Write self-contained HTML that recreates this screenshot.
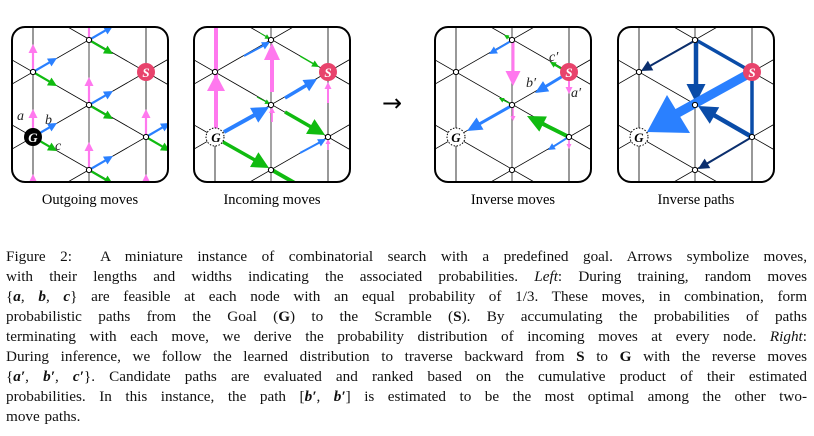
<!DOCTYPE html>
<html><head><meta charset="utf-8"><style>
html,body{margin:0;padding:0;background:#fff;width:814px;height:436px;overflow:hidden}
#fig{position:absolute;left:0;top:0}
.lab{font-family:"Liberation Serif",serif;font-size:14.5px}
#cap{position:absolute;left:6px;top:247px;width:801px;font-family:"Liberation Serif",serif;font-size:15.2px;line-height:20px;color:#111;word-spacing:1px}
#cap .l{display:block;text-align:justify;text-align-last:justify;white-space:nowrap}
#cap .last{text-align-last:left}
</style></head><body>
<svg id="fig" width="814" height="240" xmlns="http://www.w3.org/2000/svg">
<defs>
<clipPath id="c0"><rect x="12" y="27" width="156" height="155" rx="13"/></clipPath>
<clipPath id="c1"><rect x="194" y="27" width="156" height="155" rx="13"/></clipPath>
<clipPath id="c2"><rect x="435" y="27" width="156" height="155" rx="13"/></clipPath>
<clipPath id="c3"><rect x="618" y="27" width="156" height="155" rx="13"/></clipPath>
</defs>
<g id="g0" clip-path="url(#c0)"></g>
<g id="g1" clip-path="url(#c1)"></g>
<g id="g2" clip-path="url(#c2)"></g>
<g id="g3" clip-path="url(#c3)"></g>
<g id="topg"></g>
<text class="lab" x="90" y="204" text-anchor="middle">Outgoing moves</text>
<text class="lab" x="272" y="204" text-anchor="middle">Incoming moves</text>
<text class="lab" x="513" y="204" text-anchor="middle">Inverse moves</text>
<text class="lab" x="696" y="204" text-anchor="middle">Inverse paths</text>
<text x="392" y="111" font-family="DejaVu Sans,sans-serif" font-size="24" text-anchor="middle">→</text>
<g font-family="Liberation Serif,serif" font-style="italic" font-size="14" fill="#222">
<text x="17" y="120">a</text><text x="45" y="124">b</text><text x="55" y="150">c</text>
<text x="549" y="61">c′</text><text x="526" y="87">b′</text><text x="571" y="97">a′</text>
</g>
<g id="labs" font-family="Liberation Serif,serif" font-style="italic" font-weight="bold" font-size="13" text-anchor="middle">
<text x="33" y="142" fill="#fff">G</text>
<text x="146" y="77" fill="#fff">S</text>
<text x="216" y="142" fill="#000">G</text>
<text x="328" y="77" fill="#fff">S</text>
<text x="456" y="142" fill="#000">G</text>
<text x="569" y="77" fill="#fff">S</text>
<text x="639" y="142" fill="#000">G</text>
<text x="752" y="77" fill="#fff">S</text>
</g>
</svg>
<div id="cap"><span class="l">Figure 2:&nbsp; A miniature instance of combinatorial search with a predefined goal. Arrows symbolize moves,</span><span class="l">with their lengths and widths indicating the associated probabilities. <i>Left</i>: During training, random moves</span><span class="l">{<b><i>a</i></b>, <b><i>b</i></b>, <b><i>c</i></b>} are feasible at each node with an equal probability of 1/3. These moves, in combination, form</span><span class="l">probabilistic paths from the Goal (<b>G</b>) to the Scramble (<b>S</b>). By accumulating the probabilities of paths</span><span class="l">terminating with each move, we derive the probability distribution of incoming moves at every node. <i>Right</i>:</span><span class="l">During inference, we follow the learned distribution to traverse backward from <b>S</b> to <b>G</b> with the reverse moves</span><span class="l">{<b><i>a′</i></b>, <b><i>b′</i></b>, <b><i>c′</i></b>}. Candidate paths are evaluated and ranked based on the cumulative product of their estimated</span><span class="l">probabilities. In this instance, the path [<b><i>b′</i></b>, <b><i>b′</i></b>] is estimated to be the most optimal among the other two-</span><span class="l last">move paths.</span></div>
<script>
var NS="http://www.w3.org/2000/svg";
function el(p,t,a){var e=document.createElementNS(NS,t);for(var k in a)e.setAttribute(k,a[k]);p.appendChild(e);return e;}
var P="#ff78ee",B="#2a80ff",GR="#10bb10",NV="#0b2f6e",DB="#0a4ca8";
var L=[12,194,435,618];
function arr(g,x1,y1,x2,y2,c,lw,hl,hw){var dx=x2-x1,dy=y2-y1,d=Math.hypot(dx,dy),ux=dx/d,uy=dy/d;
 var bx=x2-ux*hl,by=y2-uy*hl;
 el(g,"line",{x1:x1,y1:y1,x2:bx+ux,y2:by+uy,stroke:c,"stroke-width":lw});
 el(g,"polygon",{points:x2+","+y2+" "+(bx-uy*hw/2)+","+(by+ux*hw/2)+" "+(bx+uy*hw/2)+","+(by-ux*hw/2),fill:c});}
for(var p=0;p<4;p++){
 var g=document.getElementById("g"+p),x0=L[p],X=[x0+21,x0+77,x0+134],s=0.575;
 for(var k=-123;k<=267;k+=65){
  el(g,"line",{x1:x0-5,y1:k+s*(x0-5-X[0]),x2:x0+160,y2:k+s*(x0+160-X[0]),stroke:"#000","stroke-width":0.8});
  el(g,"line",{x1:x0-5,y1:k-s*(x0-5-X[0]),x2:x0+160,y2:k-s*(x0+160-X[0]),stroke:"#000","stroke-width":0.8});
 }
 X.forEach(function(x,i){el(g,"line",{x1:x,y1:20,x2:x,y2:190,stroke:i==1?"#666":"#555","stroke-width":1.2});});
}
var g0=document.getElementById("g0");
var N0=[[33,72],[89,40],[89,105],[33,137],[146,137],[89,170],[33,7],[146,7],[146,202],[33,202],[89,-25]];
N0.forEach(function(n){var x=n[0],y=n[1];
 arr(g0,x,y,x,y-28,P,2.2,9,9);arr(g0,x,y,x+24,y-14,B,2.2,9,9);arr(g0,x,y,x+24,y+14,GR,2.2,9,9);});
var g1=document.getElementById("g1");
el(g1,"line",{x1:216,y1:20,x2:216,y2:135,stroke:P,"stroke-width":4});
el(g1,"polygon",{points:"216,74 207,91 225,91",fill:P});
arr(g1,272,92,272,43,P,4,17,16);
arr(g1,272,122,272,107,P,1.8,6,6);
arr(g1,328,103,328,82,P,2,7,7);
arr(g1,328,150,328,139,P,1.5,5,5);
arr(g1,224,132,269,107,B,4,17,17);
arr(g1,285,98,317,79,B,3.5,13,13);
arr(g1,244,56,270,42,B,2,8,8);
arr(g1,300,153,326,139,B,2,8,8);
arr(g1,300,56,319,67,GR,1.5,7,7);
arr(g1,260,33,270,39,GR,1,5,5);
arr(g1,257,97,270,104,GR,1,5,5);
arr(g1,285,112,325,135,GR,3.5,17,17);
arr(g1,223,142,269,168,GR,3.5,17,17);
el(g1,"line",{x1:272,y1:170,x2:300,y2:186,stroke:GR,"stroke-width":4});
var g2=document.getElementById("g2");
arr(g2,513,42,513,86,P,3,15,15);
arr(g2,513,106,513,121,P,1.5,5,5);
arr(g2,569,80,569,94,P,2,7,7);
arr(g2,569,139,569,149,P,1.5,5,5);
arr(g2,511,41,489,54,B,2,8,8);
arr(g2,563,76,535,93,B,3,13,12);
arr(g2,511,106,467,131,B,3,15,14);
arr(g2,567,138,548,150,B,2,7,7);
arr(g2,511,39,504,35,GR,1.2,5,5);
arr(g2,562,69,550,62,GR,2,6,6);
arr(g2,511,104,499,98,GR,1.2,5,5);
arr(g2,567,136,527,116,GR,4,18,17);
var g3=document.getElementById("g3");
arr(g3,696,40,641,71,NV,2,11,11);
arr(g3,752,137,698,169,NV,2,11,11);
el(g3,"polyline",{points:"696,40 752,72 752,137",fill:"none",stroke:DB,"stroke-width":3.5});
arr(g3,696,40,696,103,DB,4.5,19,19);
arr(g3,752,137,698,106,DB,4.5,19,19);
el(g3,"line",{x1:752,y1:72,x2:676,y2:114,stroke:B,"stroke-width":9});
el(g3,"polygon",{points:"647,132 667,95 690,133",fill:B});
var tg=document.getElementById("topg");
L.forEach(function(x0,p){
 el(tg,"rect",{x:x0,y:27,width:156,height:155,rx:13,fill:"none",stroke:"#000","stroke-width":2});
 var X=[x0+21,x0+77,x0+134];
 [[X[0],72],[X[1],40],[X[1],105],[X[2],137],[X[1],170]].forEach(function(n){
  el(tg,"circle",{cx:n[0],cy:n[1],r:2.6,fill:"#fff",stroke:"#000","stroke-width":1});});
 el(tg,"circle",{cx:X[2],cy:72,r:9,fill:"#e8436c"});
 if(p==0) el(tg,"circle",{cx:X[0],cy:137,r:9,fill:"#000"});
 else el(tg,"circle",{cx:X[0],cy:137,r:9,fill:"#fff",stroke:"#000","stroke-width":1,"stroke-dasharray":"1.5,1.5"});
});
</script>
</body></html>
